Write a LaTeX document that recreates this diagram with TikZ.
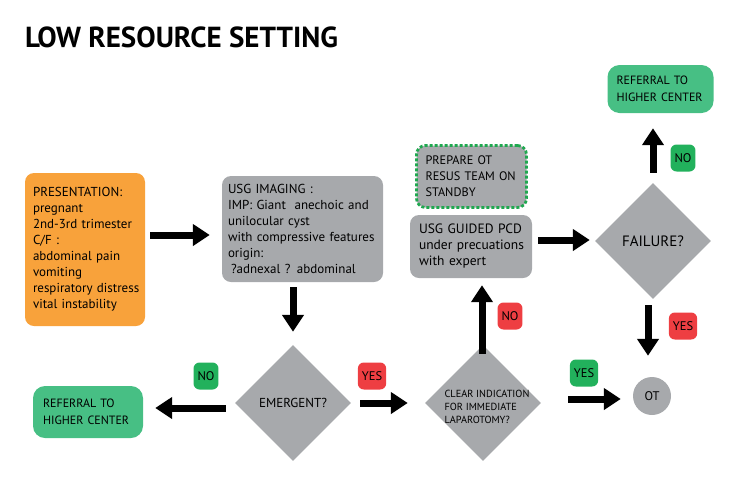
\documentclass[tikz,border=0pt]{standalone}
\usepackage{fontspec}
\setmainfont{PT Sans}
\usetikzlibrary{arrows.meta,shapes.geometric}
\definecolor{boxorange}{HTML}{F8A23B}
\definecolor{boxgray}{HTML}{A7A9AC}
\definecolor{refgreen}{HTML}{47BF84}
\definecolor{labgreen}{HTML}{22B15C}
\definecolor{labred}{HTML}{EE3E42}
\definecolor{dashgreen}{HTML}{1FA84F}
\hyphenpenalty=10000
\exhyphenpenalty=10000
\hbadness=10000
\hfuzz=50pt

\begin{document}
\begin{tikzpicture}[x=1pt,y=-1pt,
 stepbox/.style={rounded corners=9pt,align=left,font=\fontsize{13}{16}\selectfont},
 query/.style={diamond,aspect=1,fill=boxgray,inner sep=0pt,minimum size=116pt,align=left},
 tag/.style={rounded corners=6pt,minimum height=27pt,inner xsep=4pt,font=\fontsize{12.5}{14}\selectfont},
 bigarrow/.style={line width=7pt,-{Triangle[width=21pt,length=17pt]}}]
 \useasboundingbox (0,0) rectangle (750,496);
 \node[anchor=base west,inner sep=0pt,font=\fontsize{29}{32}\selectfont\bfseries] (title) at (25,47) {LOW RESOURCE SETTING};

 % boxes
 \node[stepbox,fill=boxorange,minimum width=120pt,minimum height=153pt,text width=104pt] (pres) at (85,249.5)
  {PRESENTATION:\\pregnant\\2nd-3rd~trimester\\C/F :\\abdominal~pain\\vomiting\\respiratory~distress\\vital~instability};
 \node[stepbox,fill=boxgray,minimum width=161pt,minimum height=106pt,text width=149pt] (usg) at (302.5,229)
  {USG IMAGING :\\IMP: Giant\ \ anechoic~and\\unilocular cyst\\with~compressive~features\\origin:\\\hspace*{3pt}?adnexal ? abdominal};
 \node[stepbox,fill=boxgray,minimum width=122pt,minimum height=63pt,text width=104pt,
  font=\fontsize{13.5}{16}\selectfont] (pcd) at (471,246.5)
  {USG~GUIDED~PCD\\under~precuations\\with expert};
 \node[stepbox,fill=boxgray,draw=dashgreen,line width=2.8pt,dash pattern=on 3pt off 2pt,
  minimum width=110pt,minimum height=62pt,text width=92pt,font=\fontsize{12.3}{16}\selectfont] (prep) at (471.5,176.5)
  {PREPARE OT\\RESUS~TEAM~ON\\STANDBY};
 \node[stepbox,fill=refgreen,rounded corners=12pt,minimum width=110pt,minimum height=52pt,text width=90pt,
  font=\fontsize{12}{16.5}\selectfont] (refl) at (88,412) {REFERRAL TO\\HIGHER~CENTER};
 \node[stepbox,fill=refgreen,rounded corners=12pt,minimum width=106pt,minimum height=48pt,text width=88pt,
  font=\fontsize{12}{16.5}\selectfont] (reft) at (660.5,89) {REFERRAL TO\\HIGHER~CENTER};

 % decisions
 \node[query,font=\fontsize{13}{14}\selectfont] (emer) at (293,403) {EMERGENT?};
 \node[query] (clear) at (483,403) {};
 \node[align=left,font=\fontsize{10.3}{13}\selectfont] (cleartxt) at (487,407) {CLEAR INDICATION\\FOR IMMEDIATE\\LAPAROTOMY?};
 \node[query,font=\fontsize{15}{18}\selectfont] (fail) at (653,241) {FAILURE?};
 \node[circle,fill=boxgray,minimum size=38pt,font=\fontsize{12.5}{14}\selectfont] (ot) at (652,396) {OT};

 % yes / no tags
 \foreach \x/\y/\t/\c in {206/376/NO/labgreen,372/376/YES/labred,510/316/NO/labred,
   683/158/NO/labgreen,683/326/YES/labred,584/373/YES/labgreen}
 {\node[tag,fill=\c] (tag\x\y) at (\x,\y) {\t};}

 % arrows
 \draw[bigarrow] ([xshift=5pt,yshift=14.5pt]pres.east) -- ([xshift=-12pt,yshift=-6pt]usg.west);
 \draw[bigarrow] ([xshift=-9.5pt,yshift=-5pt]usg.south) -- ([yshift=13pt]emer.north);
 \draw[bigarrow] ([xshift=-9pt,yshift=-5pt]emer.west) -- ([xshift=12pt,yshift=4pt]refl.east);
 \draw[bigarrow] ([xshift=9pt]emer.east) -- ([xshift=-17pt]clear.west);
 \draw[bigarrow] ([xshift=-1pt,yshift=-9pt]clear.north) -- ([xshift=11pt,yshift=-7pt]pcd.south);
 \draw[bigarrow] ([xshift=6pt,yshift=6.5pt]pcd.east) -- ([xshift=-5pt,yshift=1pt]fail.west);
 \draw[bigarrow] ([yshift=10pt]fail.north) -- ([xshift=-7.5pt,yshift=-15pt]reft.south);
 \draw[bigarrow] ([xshift=-5pt,yshift=-6pt]fail.south) -- ([xshift=-4pt,yshift=21pt]ot.north);
 \draw[bigarrow] ([xshift=27pt,yshift=4pt]clear.east) -- ([xshift=-12pt,yshift=-3pt]ot.west);
\end{tikzpicture}
\end{document}
